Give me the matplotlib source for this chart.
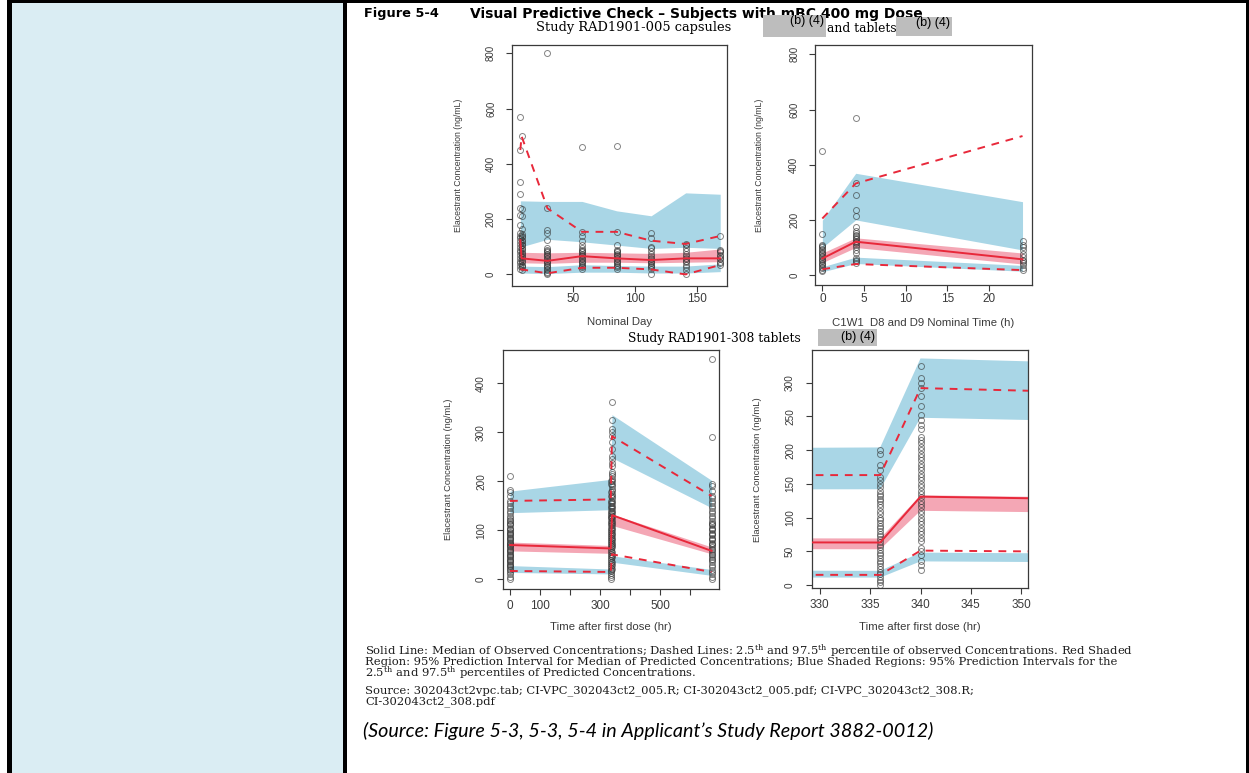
import matplotlib
matplotlib.use("Agg")
import matplotlib.pyplot as plt
from matplotlib.patches import Rectangle

plt.rcParams["mathtext.fontset"] = "custom"
plt.rcParams["mathtext.rm"] = "DejaVu Serif"
plt.rcParams["mathtext.it"] = "DejaVu Serif:italic"

# ---------------- Study RAD1901-005, nominal day ----------------
day_t = [7, 8, 29, 57, 85, 113, 141, 169]
day_median = [124, 58, 49, 66, 58, 52, 58, 58]
day_p975 = [450, 500, 239, 154, 154, 122, 110, 139]
day_p025 = [18, 18, 4, 24, 24, 18, 0, 34]
day_hi_band_lo = [100, 100, 127, 118, 106, 94, 98, 94]
day_hi_band_hi = [266, 266, 264, 264, 230, 212, 295, 290]
day_med_band_lo = [42, 42, 40, 44, 44, 42, 44, 46]
day_med_band_hi = [80, 80, 78, 80, 78, 76, 80, 92]
day_lo_band_lo = [5, 5, 3, 8, 8, 5, 5, 10]
day_lo_band_hi = [30, 30, 28, 35, 32, 30, 30, 38]

day_obs = {
    7: [570, 450, 335, 290, 240, 215, 178, 150, 140, 130, 120, 110, 100, 90,
        80, 70, 60, 50, 40, 30, 20],
    8: [500, 235, 210, 165, 145, 135, 125, 115, 105, 95, 85, 75, 65, 55, 45,
        35, 25, 15, 138, 122, 108, 92, 78, 62, 48, 32],
    29: [800, 240, 160, 150, 125, 95, 90, 85, 80, 75, 70, 65, 60, 55, 50, 45,
         40, 35, 30, 25, 20, 15, 10, 5, 0],
    57: [460, 155, 140, 120, 105, 95, 90, 85, 80, 75, 70, 65, 60, 55, 50, 45,
         40, 35, 30, 25, 20],
    85: [465, 155, 105, 90, 85, 80, 75, 70, 65, 60, 55, 50, 45, 40, 35, 30,
         25, 20],
    113: [150, 130, 100, 95, 85, 75, 65, 60, 55, 50, 45, 40, 35, 30, 25, 20, 0],
    141: [110, 105, 95, 85, 75, 65, 60, 55, 50, 45, 35, 25, 15, 0],
    169: [140, 90, 85, 80, 70, 65, 60, 55, 45, 40, 35],
}

# ---------------- Study RAD1901-005, C1W1 D8/D9 hours ----------------
hr_t = [0, 4, 24]
hr_median = [60, 121, 57]
hr_p975 = [205, 332, 504]
hr_p025 = [21, 40, 18]
hr_hi_band_lo = [100, 200, 91]
hr_hi_band_hi = [199, 369, 266]
hr_med_band_lo = [45, 100, 40]
hr_med_band_hi = [80, 135, 80]
hr_lo_band_lo = [12, 42, 14]
hr_lo_band_hi = [30, 65, 35]

hr_obs = {
    0: [450, 148, 110, 105, 100, 95, 90, 85, 80, 75, 70, 65, 60, 55, 50, 45,
        40, 35, 30, 25, 20, 15],
    4: [570, 335, 290, 235, 215, 175, 160, 152, 145, 140, 135, 130, 125, 120,
        115, 110, 100, 90, 80, 62, 55, 50, 45],
    24: [125, 110, 100, 90, 75, 65, 55, 50, 45, 35, 25, 20],
}

# ---------------- Study RAD1901-308, time after first dose ----------------
tad_t = [0, 336, 340, 672]
tad_median = [70, 63, 131, 58]
tad_p975 = [160, 163, 292, 170]
tad_p025 = [17, 15, 51, 15]
tad_hi_band_lo = [136, 142, 248, 146]
tad_hi_band_hi = [180, 204, 336, 202]
tad_med_band_lo = [58, 53, 110, 52]
tad_med_band_hi = [76, 69, 133, 66]
tad_lo_band_lo = [14, 11, 35, 8]
tad_lo_band_hi = [28, 21, 48, 20]

tad_obs = {
    0: [210, 183, 178, 170, 160, 155, 150, 145, 140, 135, 130, 125, 122, 118,
        115, 112, 110, 105, 102, 100, 97, 95, 92, 90, 87, 85, 82, 80, 77, 75,
        72, 70, 67, 65, 62, 60, 57, 55, 52, 50, 47, 45, 42, 40, 37, 35, 32,
        30, 27, 25, 22, 20, 15, 10, 5, 0],
    336: [200, 195, 178, 170, 160, 155, 150, 145, 140, 135, 132, 128, 125,
          120, 115, 110, 105, 100, 96, 92, 88, 85, 80, 76, 72, 68, 64, 60,
          56, 52, 48, 44, 40, 36, 32, 28, 24, 20, 16, 12, 8, 4, 0],
    340: [362, 325, 307, 300, 292, 280, 265, 252, 245, 238, 232, 220, 215,
          210, 205, 200, 195, 190, 185, 180, 175, 170, 165, 160, 155, 150,
          145, 140, 135, 130, 125, 120, 115, 110, 105, 100, 95, 90, 85, 80,
          75, 70, 65, 55, 50, 45, 35, 30, 22],
    672: [450, 290, 195, 190, 180, 170, 165, 160, 155, 150, 145, 140, 135,
          130, 125, 120, 115, 112, 110, 105, 102, 100, 95, 92, 90, 85, 82, 80,
          75, 72, 70, 65, 62, 60, 55, 52, 50, 45, 42, 40, 35, 30, 25, 20, 15,
          10, 5, 0],
}

W, H = 1249, 773
fig = plt.figure(figsize=(W / 100, H / 100), dpi=100)
fig.patch.set_facecolor("white")


def fx(x):
    return x / W


def fy(y):
    return 1 - y / H


def frect(x0, y0, x1, y1, color, z=0):
    fig.add_artist(Rectangle((fx(x0), fy(y1)), fx(x1) - fx(x0), fy(y0) - fy(y1),
                             transform=fig.transFigure, facecolor=color,
                             edgecolor="none", zorder=z))


# table cell background and rules
frect(12, 3, 343, H, "#DAEDF3")
frect(7, 0, 1249, 3, "black", 5)
frect(7, 0, 12, H, "black", 5)
frect(343, 0, 347, H, "black", 5)
frect(1246, 0, 1249, H, "black", 5)

BLUE = "#A9D6E6"
PINK = "#F4A7B5"
RED = "#E8283A"
AX_COL = "#3a3a3a"
SANS = "Liberation Sans"


def make_ax(l, t, r, b):
    return fig.add_axes([l / W, 1 - b / H, (r - l) / W, (b - t) / H])


def draw_vpc(ax, t, med, p975, p025, hb_lo, hb_hi, mb_lo, mb_hi, lb_lo, lb_hi, obs):
    ax.fill_between(t, hb_lo, hb_hi, color=BLUE, lw=0, zorder=1)
    ax.fill_between(t, lb_lo, lb_hi, color=BLUE, lw=0, zorder=1)
    ax.fill_between(t, mb_lo, mb_hi, color=PINK, lw=0, zorder=1)
    for tt, vals in obs.items():
        ax.plot([tt] * len(vals), vals, "o", ms=4.3, mfc="none",
                mec=(0.2, 0.2, 0.2, 0.6), mew=0.7, zorder=2)
    ax.plot(t, med, color=RED, lw=1.4, zorder=3)
    ax.plot(t, p975, color=RED, lw=1.4, dashes=(4, 3.5), zorder=3)
    ax.plot(t, p025, color=RED, lw=1.4, dashes=(4, 3.5), zorder=3)
    for s in ax.spines.values():
        s.set_linewidth(0.9)
        s.set_color(AX_COL)


def style_axes(ax, xt, xl, yt, ysize, ypad, xpad, xlabel, xlab_dist, ylab_dist,
               ylab_size):
    h_px = ax.get_position().height * H
    w_px = ax.get_position().width * W
    ax.set_xticks(xt)
    ax.set_xticklabels(xl, fontname=SANS, fontsize=8.5)
    ax.set_yticks(yt)
    ax.set_yticklabels([str(v) for v in yt], rotation=90, va="center",
                       fontname=SANS, fontsize=ysize)
    ax.tick_params(axis="both", direction="out", length=4.5, width=0.8,
                   colors=AX_COL)
    ax.tick_params(axis="x", pad=xpad)
    ax.tick_params(axis="y", pad=ypad)
    ax.set_xlabel(xlabel, fontsize=8.2, fontname=SANS, color=AX_COL)
    ax.xaxis.set_label_coords(0.5, -xlab_dist / h_px)
    ax.xaxis.label.set_va("center")
    ax.set_ylabel("Elacestrant Concentration (ng/mL)", fontsize=ylab_size,
                  fontname=SANS, color=AX_COL)
    ax.yaxis.set_label_coords(-ylab_dist / w_px, 0.5)
    ax.yaxis.label.set_va("center")


# panel 1
ax1 = make_ax(511.7, 45, 727, 286)
draw_vpc(ax1, day_t, day_median, day_p975, day_p025, day_hi_band_lo, day_hi_band_hi,
         day_med_band_lo, day_med_band_hi, day_lo_band_lo, day_lo_band_hi, day_obs)
ax1.set_xlim(0, 174.5)
ax1.set_ylim(-42, 830)
style_axes(ax1, [50, 100, 150], ["50", "100", "150"], [0, 200, 400, 600, 800],
           7.0, 6.8, 0.8, "Nominal Day", 36, 53, 6.3)

# panel 2
ax2 = make_ax(815, 45, 1031.7, 285)
draw_vpc(ax2, hr_t, hr_median, hr_p975, hr_p025, hr_hi_band_lo, hr_hi_band_hi,
         hr_med_band_lo, hr_med_band_hi, hr_lo_band_lo, hr_lo_band_hi, hr_obs)
ax2.set_xlim(-0.88, 25.1)
ax2.set_ylim(-36, 834)
style_axes(ax2, [0, 5, 10, 15, 20], ["0", "5", "10", "15", "20"],
           [0, 200, 400, 600, 800], 7.0, 6.8, 1.2,
           "C1W1  D8 and D9 Nominal Time (h)", 38, 55, 6.3)

# panel 3
ax3 = make_ax(503.3, 350, 719.3, 589.3)
draw_vpc(ax3, tad_t, tad_median, tad_p975, tad_p025, tad_hi_band_lo, tad_hi_band_hi,
         tad_med_band_lo, tad_med_band_hi, tad_lo_band_lo, tad_lo_band_hi, tad_obs)
ax3.set_xlim(-22.3, 697.7)
ax3.set_ylim(-20.4, 468)
style_axes(ax3, [0, 100, 200, 300, 400, 500, 600],
           ["0", "100", "", "300", "", "500", ""], [0, 100, 200, 300, 400],
           7.2, 8.0, 3.2, "Time after first dose (hr)", 37.5, 55, 6.7)

# panel 4
ax4 = make_ax(811.7, 350, 1028.3, 588.3)
draw_vpc(ax4, tad_t, tad_median, tad_p975, tad_p025, tad_hi_band_lo, tad_hi_band_hi,
         tad_med_band_lo, tad_med_band_hi, tad_lo_band_lo, tad_lo_band_hi, tad_obs)
ax4.set_xlim(329.2, 350.7)
ax4.set_ylim(-4.9, 348.5)
style_axes(ax4, [330, 335, 340, 345, 350], ["330", "335", "340", "345", "350"],
           [0, 50, 100, 150, 200, 250, 300], 7.2, 7.5, 3.2,
           "Time after first dose (hr)", 38.4, 54, 6.8)

# headings
fig.text(fx(364), fy(14), "Figure 5-4", fontsize=9.3, fontweight="bold",
         fontname="DejaVu Sans", va="center", ha="left")
fig.text(fx(470), fy(14), "Visual Predictive Check \u2013 Subjects with mBC 400 mg Dose",
         fontsize=10.0, fontweight="bold", fontname="DejaVu Sans", va="center",
         ha="left")
fig.text(fx(536), fy(28), "Study RAD1901-005 capsules", fontsize=9.4,
         fontname="DejaVu Serif", va="center", ha="left")
frect(763, 15, 826, 37, "#BDBDBD", 6)
fig.text(fx(824), fy(21), "(b) (4)", fontsize=9, fontname=SANS,
         va="center", ha="right", zorder=7)
fig.text(fx(827), fy(28), "and tablets", fontsize=8.8, fontname="DejaVu Serif",
         va="center", ha="left")
frect(896, 17, 952, 36, "#BDBDBD", 6)
fig.text(fx(950), fy(23), "(b) (4)", fontsize=9, fontname=SANS,
         va="center", ha="right", zorder=7)

fig.text(fx(628), fy(338), "Study RAD1901-308 tablets", fontsize=8.8,
         fontname="DejaVu Serif", va="center", ha="left")
frect(818, 329, 877, 346, "#BDBDBD", 6)
fig.text(fx(875), fy(337), "(b) (4)", fontsize=9, fontname=SANS,
         va="center", ha="right", zorder=7)

# footnotes
CAP_FONT = "DejaVu Serif"
CAP_SIZE = 8.25
cap = [
    "Solid Line: Median of Observed Concentrations; Dashed Lines: 2.5$^{\\mathrm{th}}$ and "
    "97.5$^{\\mathrm{th}}$ percentile of observed Concentrations. Red Shaded",
    "Region: 95% Prediction Interval for Median of Predicted Concentrations; Blue Shaded "
    "Regions: 95% Prediction Intervals for the",
    "2.5$^{\\mathrm{th}}$ and 97.5$^{\\mathrm{th}}$ percentiles of Predicted Concentrations.",
]
for i, line in enumerate(cap):
    fig.text(fx(365), fy(651 + 11 * i), line, fontsize=CAP_SIZE, fontname=CAP_FONT,
             va="center", ha="left", color="#1a1a1a")
fig.text(fx(365), fy(691),
         "Source: 302043ct2vpc.tab; CI-VPC_302043ct2_005.R; CI-302043ct2_005.pdf; "
         "CI-VPC_302043ct2_308.R;", fontsize=CAP_SIZE, fontname=CAP_FONT,
         va="center", ha="left", color="#1a1a1a")
fig.text(fx(365), fy(702), "CI-302043ct2_308.pdf", fontsize=CAP_SIZE,
         fontname=CAP_FONT, va="center", ha="left", color="#1a1a1a")
fig.text(fx(363), fy(731),
         "(Source: Figure 5-3, 5-3, 5-4 in Applicant\u2019s Study Report 3882-0012)",
         fontsize=14.2, fontname="Lato", style="italic", va="center", ha="left")

fig.savefig("out.png", dpi=100)
